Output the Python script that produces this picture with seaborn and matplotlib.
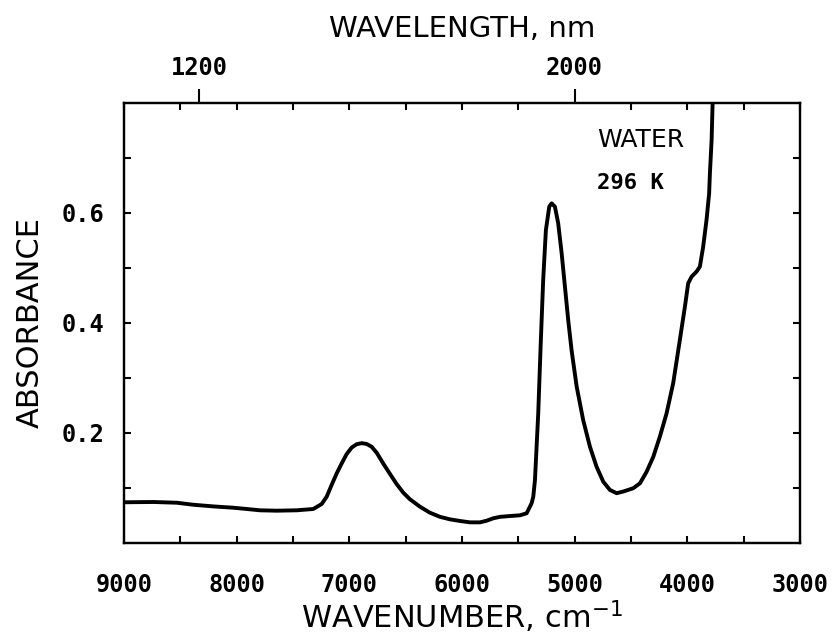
import numpy as np
import pandas as pd
import matplotlib
matplotlib.use("Agg")
import matplotlib.pyplot as plt
import seaborn as sns
from matplotlib.ticker import FixedLocator, MultipleLocator

# ---- data ----
wavenumber = [9000, 8740, 8532, 8385, 8207, 8030, 7911, 7793, 7645, 7467, 7320,
              7245, 7201, 7157, 7112, 7068, 7024, 6979, 6935, 6890, 6846, 6802, 6757,
              6699, 6639, 6580, 6521, 6462, 6373, 6284, 6195, 6107, 6018, 5929, 5840,
              5781, 5722, 5663, 5574, 5486, 5426, 5382, 5367, 5352, 5323, 5302, 5279,
              5255, 5225, 5204, 5175, 5146, 5115, 5086, 5057, 5027, 4982, 4924, 4864,
              4805, 4746, 4687, 4627, 4569, 4480, 4420, 4361, 4302, 4243, 4184, 4125,
              4066, 4021, 3992, 3962, 3917, 3888, 3859, 3829, 3806, 3799, 3784, 3775]
absorbance = [0.0735, 0.074, 0.0727, 0.069, 0.066, 0.0636, 0.0613, 0.0589, 0.0582, 0.0589, 0.0613,
              0.0704, 0.0836, 0.105, 0.126, 0.144, 0.161, 0.173, 0.179, 0.181, 0.1795, 0.1745, 0.1636,
              0.144, 0.125, 0.1067, 0.091, 0.079, 0.0655, 0.0545, 0.047, 0.0425, 0.0395, 0.037, 0.037,
              0.040, 0.0444, 0.047, 0.0485, 0.0498, 0.0535, 0.0716, 0.0836, 0.114, 0.235, 0.356, 0.478,
              0.5685, 0.611, 0.617, 0.611, 0.581, 0.526, 0.4655, 0.405, 0.350, 0.284, 0.223, 0.1745,
              0.138, 0.111, 0.096, 0.090, 0.093, 0.099, 0.108, 0.129, 0.156, 0.193, 0.235, 0.290,
              0.3685, 0.429, 0.4716, 0.4836, 0.493, 0.502, 0.538, 0.587, 0.635, 0.672, 0.732, 0.80]

x_ticks = [9000, 8000, 7000, 6000, 5000, 4000, 3000]
y_ticks = [0.2, 0.4, 0.6]
top_tick_nm = [1200, 2000]

df = pd.DataFrame({"wn": wavenumber, "A": absorbance})

sns.set_style("white")
plt.rcParams["font.family"] = ["DejaVu Sans"]
plt.rcParams["text.color"] = "black"
plt.rcParams["axes.labelcolor"] = "black"
plt.rcParams["xtick.color"] = "black"
plt.rcParams["ytick.color"] = "black"

fig = plt.figure(figsize=(8.35, 6.39), dpi=100)
ax = fig.add_axes([0.1485, 0.1507, 0.8095, 0.6886])

sns.lineplot(data=df, x="wn", y="A", ax=ax, color="black", lw=2.8, sort=False)
ax.lines[0].set_solid_joinstyle("round")
ax.lines[0].set_solid_capstyle("round")

ax.set_xlim(9000, 3000)
ax.set_ylim(0, 0.8)
ax.set_xticks(x_ticks)
ax.set_xticklabels([str(t) for t in x_ticks])
ax.xaxis.set_minor_locator(MultipleLocator(500))
ax.set_yticks(y_ticks)
ax.set_yticklabels([f"{t:.1f}" for t in y_ticks])
ax.yaxis.set_minor_locator(FixedLocator([0.1, 0.3, 0.5, 0.7]))

for s in ax.spines.values():
    s.set_linewidth(1.6)
    s.set_color("black")

ax.tick_params(axis="both", which="both", direction="in", length=5, width=1.5,
               bottom=True, left=True, top=False, right=True, color="black")
ax.tick_params(axis="x", which="major", pad=22)
ax.tick_params(axis="y", which="major", pad=14)

for lab in ax.get_xticklabels() + ax.get_yticklabels():
    lab.set_family("DejaVu Sans Mono")
    lab.set_fontweight("bold")
    lab.set_fontsize(17)

ax.set_xlabel("WAVENUMBER, cm$^{-1}$", fontsize=22, labelpad=1)
ax.set_ylabel("ABSORBANCE", fontsize=22, labelpad=12)

# top axis: wavelength in nm
ax2 = ax.twiny()
ax2.set_xlim(ax.get_xlim())
ax2.set_xticks([1e7 / v for v in top_tick_nm])
ax2.set_xticklabels([str(v) for v in top_tick_nm])
ax2.xaxis.set_minor_locator(MultipleLocator(500))
ax2.tick_params(axis="x", which="major", direction="out", length=10, width=1.5, pad=6,
                top=True, color="black")
ax2.tick_params(axis="x", which="minor", direction="in", length=5, width=1.5,
                top=True, color="black")
for lab in ax2.get_xticklabels():
    lab.set_family("DejaVu Sans Mono")
    lab.set_fontweight("bold")
    lab.set_fontsize(17)
ax2.set_xlabel("WAVELENGTH, nm", fontsize=21, labelpad=14)
for s in ax2.spines.values():
    s.set_linewidth(1.6)
    s.set_color("black")

ax.text(4800, 0.732, "WATER", fontsize=18, ha="left", va="center")
ax.text(4800, 0.654, "296 K", fontsize=16, fontweight="bold", ha="left", va="center",
        family="DejaVu Sans Mono")

fig.savefig("out.png", dpi=100)
